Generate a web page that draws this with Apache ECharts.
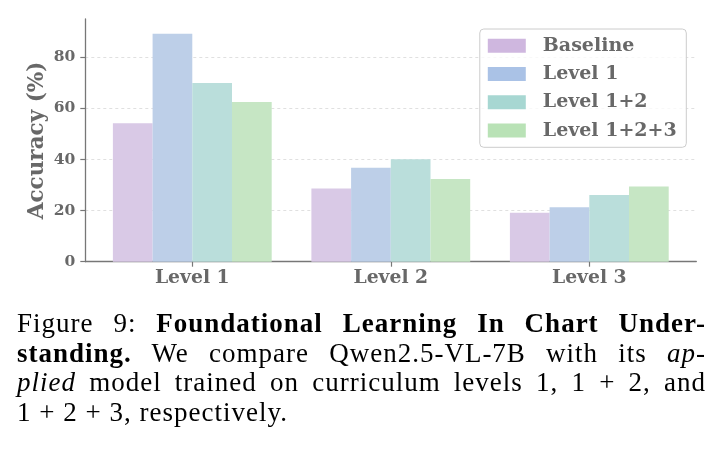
<!DOCTYPE html>
<html>
<head>
<meta charset="utf-8">
<script src="https://cdn.jsdelivr.net/npm/echarts@6/dist/echarts.min.js"></script>
<style>
  html, body { margin: 0; padding: 0; background: #fff; }
  #main { position: absolute; left: 0; top: 0; width: 726px; height: 455px; }
  #caption {
    position: absolute; left: 17px; top: 309px; width: 689px;
    font-family: "Liberation Serif", serif; font-size: 27px; line-height: 29.7px; color: #000;
    letter-spacing: 1px;
  }
  #caption div { text-align: justify; text-align-last: justify; white-space: nowrap; }
  #caption div.last { text-align-last: left; }
</style>
</head>
<body>
<div id="main"></div>
<div id="caption">
  <div>Figure 9: <b>Foundational Learning In Chart Under-</b></div>
  <div><b>standing.</b> We compare Qwen2.5-VL-7B with its <i>ap-</i></div>
  <div><i>plied</i> model trained on curriculum levels 1, 1 + 2, and</div>
  <div class="last">1 + 2 + 3, respectively.</div>
</div>
<script>
// 数据
var categories = ["Level 1", "Level 2", "Level 3"];
var seriesNames = ["Baseline", "Level 1", "Level 1+2", "Level 1+2+3"];
var baseline = [54.2, 28.7, 19.2];
var level1 = [89.2, 36.8, 21.3];
var level12 = [69.9, 40.1, 26.1];
var level123 = [62.5, 32.4, 29.4];
var yTicks = [0, 20, 40, 60, 80];

var barColors = ["#d9c9e6", "#bdcfe8", "#badedb", "#c6e6c4"];
var legendColors = ["#cfb7df", "#aac2e6", "#a7d7d2", "#b9e2b6"];
var gray = "#686868";
var font = "DejaVu Serif";

window.addEventListener("load", function () {
    var myChart = echarts.init(document.getElementById("main"));
    var allValues = [baseline, level1, level12, level123];

    var series = [];
    for (var i = 0; i < seriesNames.length; i++) {
        series.push({
            name: seriesNames[i],
            type: "bar",
            barWidth: 39.7,
            barGap: "0%",
            itemStyle: { color: barColors[i] },
            data: allValues[i].map(function (v, k) { return [k, v]; })
        });
    }

    var option = {
        animation: false,
        grid: { left: 85.3, right: 29.7, top: 19, height: 242.7 },
        legend: {
            right: 39.7, top: 29,
            orient: "vertical",
            selectedMode: false,
            backgroundColor: "rgba(255,255,255,0.8)",
            borderColor: "#cccccc",
            borderWidth: 1,
            borderRadius: 4,
            padding: [5.7, 9.6, 5.7, 8],
            itemWidth: 38,
            itemHeight: 14,
            itemGap: 6.3,
            icon: "rect",
            textStyle: {
                fontFamily: font, fontWeight: "bold", fontSize: 19, color: gray,
                lineHeight: 22, padding: [0, 0, 0, 12]
            },
            data: seriesNames.map(function (n, i) {
                return { name: n, itemStyle: { color: legendColors[i] } };
            })
        },
        xAxis: {
            type: "value",
            min: -0.539,
            max: 2.539,
            splitLine: { show: false },
            axisLine: { show: true, onZero: false, lineStyle: { color: "#777", width: 1.3 } },
            axisTick: { show: true, length: 5, customValues: [0, 1, 2], lineStyle: { color: "#777", width: 1.2 } },
            axisLabel: {
                customValues: [0, 1, 2],
                margin: 7,
                fontFamily: font, fontWeight: "bold", fontSize: 18.8, color: gray,
                formatter: function (v) { return categories[Math.round(v)]; }
            }
        },
        yAxis: {
            type: "value",
            min: 0,
            max: 95,
            interval: 20,
            name: "Accuracy (%)",
            nameLocation: "middle",
            nameGap: 37,
            nameMoveOverlap: false,
            nameTextStyle: { fontFamily: font, fontWeight: "bold", fontSize: 21.5, color: gray },
            axisLine: { show: true, onZero: false, lineStyle: { color: "#777", width: 1.3 } },
            axisTick: { show: true, length: 5, customValues: yTicks, lineStyle: { color: "#777", width: 1.2 } },
            axisLabel: {
                customValues: yTicks,
                margin: 10,
                fontFamily: font, fontWeight: "bold", fontSize: 15.5, color: gray
            },
            splitLine: { show: true, lineStyle: { color: "#d8d8d8", type: [3, 3], width: 0.8 } }
        },
        series: series
    };
    myChart.setOption(option);
});
</script>
</body>
</html>
